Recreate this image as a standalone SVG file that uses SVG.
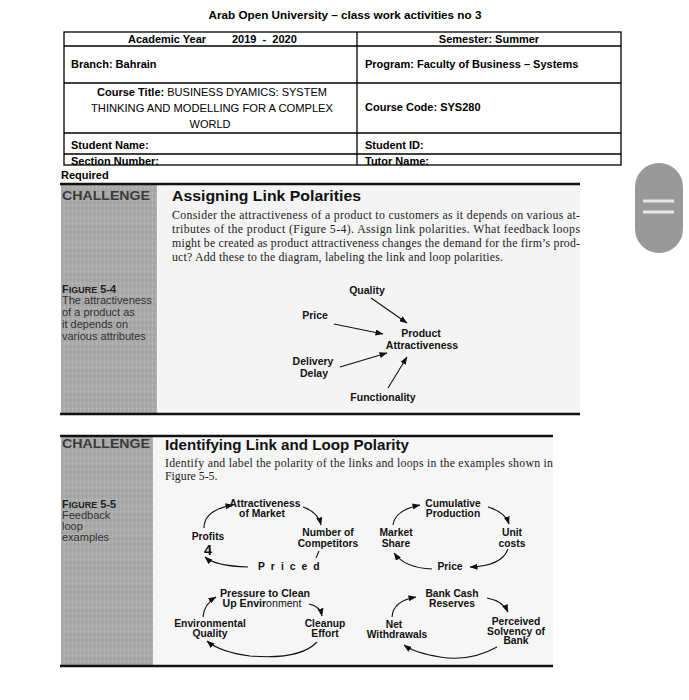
<svg xmlns="http://www.w3.org/2000/svg" width="689" height="700" viewBox="0 0 689 700">
<defs>
<style>
.h{font-family:"Liberation Sans",Arial,sans-serif;font-weight:bold;font-size:11px;fill:#000}
.r{font-family:"Liberation Sans",Arial,sans-serif;font-size:11px;fill:#000}
.tb{fill:none;stroke:#000;stroke-width:1.3}
.ch{font-family:"Liberation Sans",Arial,sans-serif;font-weight:bold;font-size:13px;fill:#3a3a3a}
.tt{font-family:"Liberation Sans",Arial,sans-serif;font-weight:bold;fill:#111}
.p{font-family:"Liberation Serif","Times New Roman",serif;font-size:11.8px;fill:#222}
.cap{font-family:"Liberation Sans",Arial,sans-serif;font-size:11px;fill:#333}
.capb{font-family:"Liberation Sans",Arial,sans-serif;font-size:11px;font-weight:bold;fill:#222}
.n{font-family:"Liberation Sans",Arial,sans-serif;font-weight:bold;font-size:10.3px;fill:#111;text-anchor:middle}
.n5{font-size:10.5px}
.c{fill:none;stroke:#111;stroke-width:1.1;marker-end:url(#ah)}
.rule{stroke:#111;stroke-width:2.5}
</style>
<marker id="ah" markerWidth="8" markerHeight="6" refX="7.5" refY="3" orient="auto" markerUnits="userSpaceOnUse">
<path d="M0,0 L8,3 L0,6 z" fill="#111"/>
</marker>
<pattern id="grain" width="4" height="6" patternUnits="userSpaceOnUse">
<rect width="4" height="6" fill="#aaaaaa"/>
<rect x="0" y="0" width="1" height="3" fill="#b6b6b6"/>
<rect x="2" y="3" width="1" height="3" fill="#9e9e9e"/>
</pattern>
</defs>
<rect width="689" height="700" fill="#ffffff"/>

<g id="header">
<text x="345" y="19" text-anchor="middle" class="h" style="font-size:11.7px">Arab Open University – class work activities no 3</text>
<rect x="64" y="32" width="557" height="133" class="tb"/>
<line x1="64" y1="46" x2="621" y2="46" class="tb"/>
<line x1="64" y1="83" x2="621" y2="83" class="tb"/>
<line x1="64" y1="133" x2="621" y2="133" class="tb"/>
<line x1="64" y1="154" x2="621" y2="154" class="tb"/>
<line x1="357" y1="32" x2="357" y2="165" class="tb"/>
<text x="128" y="43" class="h">Academic Year</text>
<text x="232" y="43" class="h" xml:space="preserve">2019  -  2020</text>
<text x="489" y="43" class="h" text-anchor="middle">Semester: Summer</text>
<text x="71" y="68" class="h">Branch: Bahrain</text>
<text x="365" y="68" class="h">Program: Faculty of Business – Systems</text>
<text x="97" y="96" class="r" textLength="230" lengthAdjust="spacingAndGlyphs"><tspan font-weight="bold">Course Title:</tspan>  BUSINESS DYAMICS: SYSTEM</text>
<text x="91" y="112" class="r" textLength="242" lengthAdjust="spacingAndGlyphs">THINKING AND MODELLING FOR A COMPLEX</text>
<text x="210" y="128" class="r" text-anchor="middle">WORLD</text>
<text x="365" y="111" class="h">Course Code: SYS280</text>
<text x="71" y="149" class="h">Student Name:</text>
<text x="365" y="149" class="h">Student ID:</text>
<text x="71" y="165" class="h">Section Number:</text>
<text x="365" y="165" class="h">Tutor Name:</text>
<text x="61" y="179" class="h">Required</text>
</g>

<g id="challenge1">
<rect x="157" y="185" width="423" height="228" fill="#f4f4f4"/>
<rect x="61" y="185" width="96" height="228" fill="url(#grain)"/>
<line x1="60" y1="184" x2="580" y2="184" class="rule"/>
<line x1="60" y1="414" x2="580" y2="414" class="rule"/>
<text x="62" y="200" class="ch" textLength="88" lengthAdjust="spacingAndGlyphs">CHALLENGE</text>
<text x="172" y="201" class="tt" font-size="15.5" textLength="189" lengthAdjust="spacingAndGlyphs">Assigning Link Polarities</text>
<text x="172" y="219" class="p" textLength="408" lengthAdjust="spacing">Consider the attractiveness of a product to customers as it depends on various at-</text>
<text x="172" y="233" class="p" textLength="408" lengthAdjust="spacing">tributes of the product (Figure 5-4). Assign link polarities. What feedback loops</text>
<text x="172" y="247" class="p" textLength="408" lengthAdjust="spacing">might be created as product attractiveness changes the demand for the firm’s prod-</text>
<text x="172" y="261" class="p" textLength="331" lengthAdjust="spacing">uct? Add these to the diagram, labeling the link and loop polarities.</text>
<text x="62" y="293" class="capb">F<tspan style="font-size:9px">IGURE</tspan> 5-4</text>
<text x="62" y="304" class="cap">The attractiveness</text>
<text x="62" y="316" class="cap">of a product as</text>
<text x="62" y="328" class="cap">it depends on</text>
<text x="62" y="340" class="cap">various attributes</text>
</g>

<g id="n-quality"><text x="367" y="294" class="n n5">Quality</text></g>
<g id="n-price"><text x="315" y="319" class="n n5">Price</text></g>
<g id="n-product"><text x="421" y="337" class="n n5">Product</text><text x="422" y="349" class="n n5">Attractiveness</text></g>
<g id="n-delivery"><text x="313" y="365" class="n n5">Delivery</text><text x="314" y="377" class="n n5">Delay</text></g>
<g id="n-functionality"><text x="383" y="401" class="n n5">Functionality</text></g>

<g id="challenge2">
<rect x="153" y="437" width="400" height="228" fill="#f6f6f6"/>
<rect x="61" y="437" width="92" height="228" fill="url(#grain)"/>
<line x1="60" y1="436" x2="553" y2="436" class="rule"/>
<line x1="60" y1="666" x2="553" y2="666" class="rule"/>
<text x="62" y="448" class="ch" textLength="88" lengthAdjust="spacingAndGlyphs">CHALLENGE</text>
<text x="165" y="450" class="tt" font-size="14.5" textLength="244" lengthAdjust="spacingAndGlyphs">Identifying Link and Loop Polarity</text>
<text x="165" y="467" class="p" textLength="388" lengthAdjust="spacing">Identify and label the polarity of the links and loops in the examples shown in</text>
<text x="165" y="480" class="p">Figure 5-5.</text>
<text x="62" y="508" class="capb">F<tspan style="font-size:9px">IGURE</tspan> 5-5</text>
<text x="62" y="519" class="cap">Feedback</text>
<text x="62" y="530" class="cap">loop</text>
<text x="62" y="541" class="cap">examples</text>
</g>

<g id="n-attract"><text x="265" y="507" class="n">Attractiveness</text><text x="262" y="516.5" class="n">of Market</text></g>
<g id="n-competitors"><text x="328" y="536" class="n">Number of</text><text x="328" y="546.5" class="n">Competitors</text></g>
<g id="n-profits"><text x="208" y="540" class="n">Profits</text><text x="208" y="555" class="n" style="font-size:15px" textLength="8" lengthAdjust="spacingAndGlyphs">4</text></g>
<g id="n-priced"><text x="258" y="570" class="n" style="text-anchor:start" letter-spacing="6">Priced</text></g>

<g id="n-cumulative"><text x="453" y="507" class="n">Cumulative</text><text x="453" y="516.5" class="n">Production</text></g>
<g id="n-unit"><text x="512" y="536" class="n">Unit</text><text x="512" y="546.5" class="n">costs</text></g>
<g id="n-share"><text x="396" y="536" class="n">Market</text><text x="396" y="546.5" class="n">Share</text></g>
<g id="n-price2"><text x="450" y="570" class="n">Price</text></g>

<g id="n-pressure"><text x="265" y="596.5" class="n" style="font-size:10.6px">Pressure to Clean</text><text x="262" y="607" class="n" style="font-size:10.6px">Up Envir<tspan font-weight="normal">onment</tspan></text></g>
<g id="n-envq"><text x="210" y="627" class="n">Environmental</text><text x="210" y="636.5" class="n">Quality</text></g>
<g id="n-cleanup"><text x="325" y="627" class="n">Cleanup</text><text x="325" y="636.5" class="n">Effort</text></g>

<g id="n-bank"><text x="452" y="597" class="n">Bank Cash</text><text x="452" y="606.5" class="n">Reserves</text></g>
<g id="n-net"><text x="394" y="628" class="n">Net</text><text x="397" y="637.5" class="n">Withdrawals</text></g>
<g id="n-solvency"><text x="516" y="625" class="n">Perceived</text><text x="516" y="634.5" class="n">Solvency of</text><text x="516" y="644" class="n">Bank</text></g>

<g id="connectors">
<line x1="371" y1="298" x2="407" y2="323" class="c"/>
<line x1="334" y1="324" x2="383" y2="334" class="c"/>
<line x1="340" y1="367" x2="387" y2="353" class="c"/>
<line x1="388" y1="388" x2="407" y2="357" class="c"/>

<path d="M204,528 Q204,510 233,505" class="c"/>
<path d="M303,507 Q318,512 321,525" class="c"/>
<path d="M319,551 L316,558" fill="none" stroke="#111" stroke-width="1.1"/>
<path d="M248,567 Q215,566 205,557" class="c"/>

<path d="M393,525 Q395,510 420,505" class="c"/>
<path d="M488,507 Q505,512 509,524" class="c"/>
<path d="M508,549 Q502,566 470,567" class="c"/>
<path d="M432,569 Q405,568 394,553" class="c"/>

<path d="M203,617 Q204,604 216,597" class="c"/>
<path d="M309,604 Q320,606 322,616" class="c"/>
<path d="M317,642 Q300,660 250,656 Q220,652 207,641" class="c"/>

<path d="M392,617 Q393,601 416,597" class="c"/>
<path d="M487,598 Q503,601 508,612" class="c"/>
<path d="M497,647 Q470,662 440,657 Q415,653 404,645" class="c"/>
</g>

<g id="scroll-handle">
<rect x="635" y="163" width="48" height="90" rx="24" fill="#999999"/>
<line x1="643" y1="201" x2="674" y2="201" stroke="#e6e6e6" stroke-width="3"/>
<line x1="643" y1="212" x2="674" y2="212" stroke="#e6e6e6" stroke-width="3"/>
</g>
</svg>
